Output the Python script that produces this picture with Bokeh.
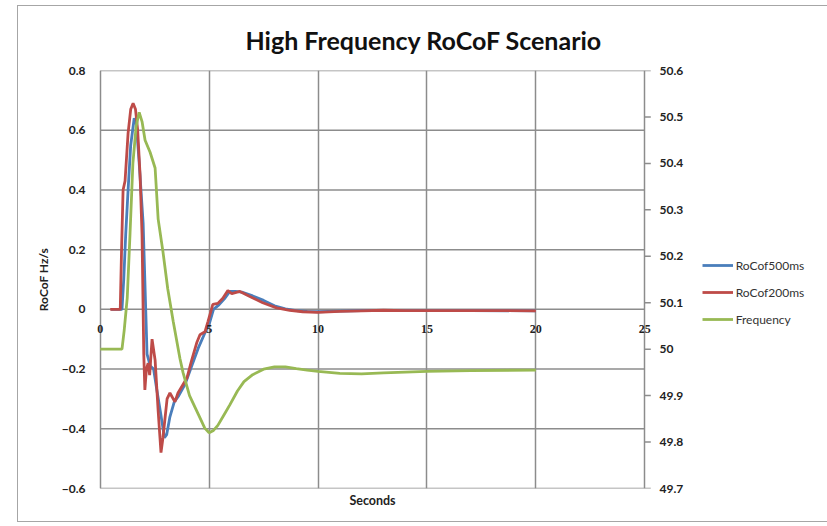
from bokeh.plotting import figure
from bokeh.models import (Range1d, LinearAxis, FixedTicker, Legend, LegendItem,
                          LabelSet, ColumnDataSource)
from bokeh.embed import file_html
from bokeh.resources import INLINE

# RoCoF computed over a 500 ms window (Hz/s)
t_rocof500 = [0.5, 1.0, 1.08, 1.17, 1.28, 1.4, 1.56, 1.66, 1.78, 1.97, 2.15, 2.3, 2.45,
              2.6, 2.8, 2.95, 3.05, 3.2, 3.4, 3.6, 3.9, 4.2, 4.5, 4.8, 5.0, 5.2, 5.45,
              5.7, 5.95, 6.2, 6.5, 7.0, 7.5, 8.0, 8.5, 9.0, 9.5, 10.0, 11.0, 12.0, 14.0,
              17.0, 20.0]
rocof500 = [0.0, 0.0, 0.1, 0.25, 0.40, 0.55, 0.64, 0.62, 0.50, 0.29, -0.15, -0.19, -0.20,
            -0.27, -0.36, -0.43, -0.42, -0.36, -0.31, -0.29, -0.25, -0.19, -0.13, -0.08,
            -0.05, 0.0, 0.015, 0.035, 0.06, 0.06, 0.058, 0.045, 0.03, 0.012, 0.002,
            -0.004, -0.007, -0.008, -0.006, -0.004, -0.004, -0.004, -0.005]

# RoCoF computed over a 200 ms window (Hz/s)
t_rocof200 = [0.46, 0.92, 0.98, 1.05, 1.14, 1.28, 1.4, 1.51, 1.62, 1.72, 1.83, 1.92, 2.0,
              2.05, 2.12, 2.2, 2.27, 2.38, 2.52, 2.66, 2.79, 2.88, 3.07, 3.2, 3.43, 3.57,
              3.98, 4.2, 4.44, 4.58, 4.81, 4.95, 5.17, 5.4, 5.63, 5.86, 6.04, 6.41, 6.87,
              7.46, 8.1, 8.7, 9.3, 9.98, 11.0, 12.0, 13.0, 14.0, 16.0, 18.0, 20.0]
rocof200 = [0.0, 0.0, 0.2, 0.40, 0.43, 0.59, 0.67, 0.69, 0.67, 0.60, 0.45, 0.25, -0.15,
            -0.27, -0.20, -0.18, -0.22, -0.10, -0.17, -0.34, -0.48, -0.43, -0.30, -0.28,
            -0.31, -0.28, -0.23, -0.17, -0.11, -0.085, -0.075, -0.04, 0.017, 0.02, 0.037,
            0.063, 0.053, 0.06, 0.043, 0.022, 0.005, -0.003, -0.008, -0.01, -0.007,
            -0.005, -0.003, -0.004, -0.004, -0.004, -0.005]

# System frequency (Hz)
t_freq = [0.0, 0.95, 1.0, 1.1, 1.24, 1.37, 1.5, 1.65, 1.79, 1.92, 2.06, 2.29, 2.52, 2.66,
          2.88, 3.1, 3.35, 3.66, 3.8, 4.1, 4.5, 4.8, 5.0, 5.2, 5.4, 5.7, 5.95, 6.3, 6.6,
          7.0, 7.5, 8.0, 8.5, 9.0, 9.5, 10.0, 11.0, 12.0, 13.0, 15.0, 17.0, 20.0]
freq = [50.0, 50.0, 50.0, 50.04, 50.11, 50.25, 50.40, 50.48, 50.51, 50.49, 50.45, 50.424,
        50.39, 50.28, 50.21, 50.13, 50.06, 49.98, 49.95, 49.90, 49.86, 49.83, 49.82,
        49.825, 49.836, 49.86, 49.88, 49.91, 49.93, 49.945, 49.957, 49.962, 49.962,
        49.958, 49.955, 49.952, 49.948, 49.947, 49.949, 49.952, 49.954, 49.955]

x_ticks = [0, 5, 10, 15, 20, 25]
x_tick_labels = ["0", "5", "10", "15", "20", "25"]
rocof_ticks = [-0.6, -0.4, -0.2, 0.0, 0.2, 0.4, 0.6, 0.8]
freq_ticks = [49.7, 49.8, 49.9, 50.0, 50.1, 50.2, 50.3, 50.4, 50.5, 50.6]

FONT = "Lato"
GRID = "#8c8c8c"
TEXT = "#222222"
BLUE = "#4a7ebb"
RED = "#be4b48"
GREEN = "#98b954"

# The frame runs a little past 0 and 25 s so that the end tick labels fit;
# the plot-area border is drawn by the gridlines at the end ticks.
p = figure(width=809, height=515, frame_width=562, frame_height=418,
           min_border_left=73, min_border_top=64, min_border_right=174,
           min_border_bottom=33,
           x_range=Range1d(-0.4, 25.4), y_range=Range1d(-0.6, 0.8),
           output_backend="svg", toolbar_location=None,
           title="High Frequency RoCoF Scenario",
           margin=(5, 0, 0, 17),
           styles={"border": "1px solid #a6a6a6"})

p.extra_y_ranges = {"freq": Range1d(49.7, 50.6)}

p.title.align = "left"
p.title.vertical_align = "bottom"
p.title.text_font = FONT
p.title.text_font_size = "25px"
p.title.text_font_style = "bold"
p.title.text_color = "#111111"
p.title.standoff = 32
p.title.offset = 154

p.outline_line_color = None
p.background_fill_color = "white"
p.border_fill_color = "white"

# Bottom axis only carries the title; tick labels sit under the zero line
bottom = p.below[0]
bottom.ticker = FixedTicker(ticks=[])
bottom.major_tick_out = 0
bottom.major_tick_in = 0
bottom.minor_tick_out = 0
bottom.minor_tick_in = 0
bottom.axis_line_color = None
bottom.major_label_standoff = 0
bottom.axis_label = "Seconds"
bottom.axis_label_standoff = 4
bottom.axis_label_text_font = FONT
bottom.axis_label_text_font_size = "12.5px"
bottom.axis_label_text_font_style = "bold"
bottom.axis_label_text_color = TEXT

left = p.left[0]
left.ticker = FixedTicker(ticks=rocof_ticks)
left.major_tick_out = 0
left.major_tick_in = 0
left.minor_tick_out = 0
left.minor_tick_in = 0
left.axis_line_color = None
left.major_label_standoff = 6
left.major_label_text_font = FONT
left.major_label_text_font_size = "12px"
left.major_label_text_font_style = "bold"
left.major_label_text_color = TEXT
left.axis_label = "RoCoF Hz/s"
left.axis_label_standoff = 8
left.axis_label_text_font = FONT
left.axis_label_text_font_size = "12px"
left.axis_label_text_font_style = "bold"
left.axis_label_text_color = TEXT

right = LinearAxis(y_range_name="freq", ticker=FixedTicker(ticks=freq_ticks))
right.major_tick_out = 0
right.major_tick_in = 0
right.minor_tick_out = 0
right.minor_tick_in = 0
right.axis_line_color = None
right.major_label_standoff = 6
right.major_label_text_font = FONT
right.major_label_text_font_size = "12px"
right.major_label_text_font_style = "bold"
right.major_label_text_color = TEXT
p.add_layout(right, "right")

# Gridlines: vertical ones at the time ticks, horizontal ones limited to 0..25 s
p.xgrid.ticker = FixedTicker(ticks=x_ticks)
p.xgrid.grid_line_color = GRID
p.xgrid.grid_line_width = 1.5
p.ygrid.visible = False
p.segment(x0=[x_ticks[0]] * len(rocof_ticks), x1=[x_ticks[-1]] * len(rocof_ticks),
          y0=rocof_ticks, y1=rocof_ticks, line_color=GRID, line_width=1.5)

# Short tick marks of the frequency axis, outside the 25 s border
p.ray(x=[x_ticks[-1]] * len(freq_ticks), y=freq_ticks, length=6, length_units="screen",
      angle=0, line_color=GRID, line_width=1.5, y_range_name="freq")

r500 = p.line(t_rocof500, rocof500, line_color=BLUE, line_width=2.8)
r200 = p.line(t_rocof200, rocof200, line_color=RED, line_width=2.8)
rf = p.line(t_freq, freq, line_color=GREEN, line_width=2.8, y_range_name="freq")

# Time tick labels placed just under the zero line
tick_src = ColumnDataSource(dict(x=x_ticks, y=[0] * len(x_ticks), text=x_tick_labels))
p.add_layout(LabelSet(x="x", y="y", text="text", source=tick_src,
                      text_align="center", text_baseline="middle", y_offset=-20,
                      text_font=FONT, text_font_size="12px", text_font_style="bold",
                      text_color=TEXT))

legend = Legend(items=[LegendItem(label="RoCof500ms", renderers=[r500]),
                       LegendItem(label="RoCof200ms", renderers=[r200]),
                       LegendItem(label="Frequency", renderers=[rf])],
                location=(-220, 159), padding=0, margin=0, spacing=7,
                glyph_width=31, glyph_height=20, label_standoff=3,
                label_text_font=FONT, label_text_font_size="12px",
                label_text_color="#333333",
                border_line_color=None, background_fill_alpha=0)
p.add_layout(legend, "right")

open("out.html", "w").write(file_html(p, INLINE))
